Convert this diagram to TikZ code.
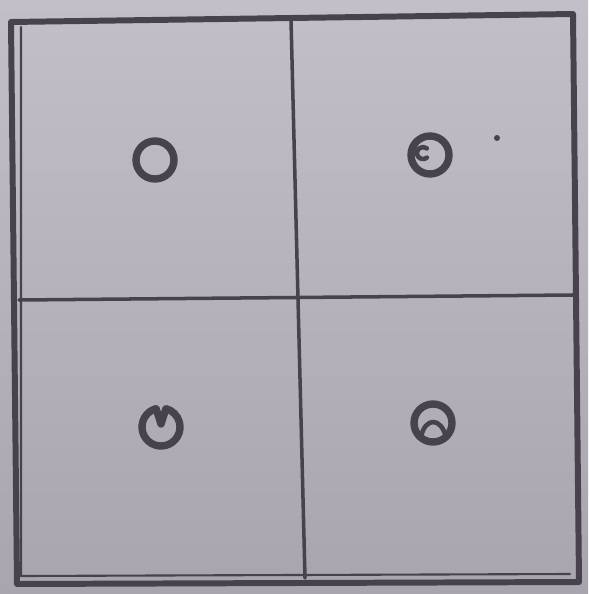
\documentclass[tikz,border=0pt]{standalone}
\usetikzlibrary{calc}

\begin{document}
\begin{tikzpicture}[x=0.02cm, y=-0.02cm]
    % Define ring radius
    \def\ringRadius{19}

    \definecolor{paperTop}{HTML}{C3BFC8}
    \definecolor{paperBottom}{HTML}{A9A5AE}
    \definecolor{inkColour}{HTML}{47424C}

    \tikzset{
        ink/.style={draw=inkColour, line cap=round, line join=round},
        ring/.style={ink, line width=4.2pt}
    }

    % Draw paper background
    \shade[top color=paperTop, bottom color=paperBottom] (0,0) rectangle (588,594);
    \useasboundingbox (0,0) rectangle (588,594);

    % Define frame corners
    \coordinate (TL) at (11,22);
    \coordinate (TR) at (573,14);
    \coordinate (BR) at (579,582);
    \coordinate (BL) at (17,584);

    % Draw the frame
    \draw[ink, line width=3.4pt] (TL) -- (TR) -- (BR) -- (BL) -- cycle;
    \draw[ink, line width=1.2pt] (21,27) -- (21,576) -- (570,574);

    % Draw the dividers
    \coordinate (Vtop) at (291,20);
    \coordinate (Vbot) at (305,578);
    \coordinate (Hleft) at (19,300);
    \coordinate (Hright) at (573,295);
    \draw[ink, line width=2pt] (Vtop) -- (Vbot);
    \draw[ink, line width=2pt] (Hleft) -- (Hright);

    % Top-left: plain ring
    \coordinate (ringA) at (155,160);
    \draw[ring] (ringA) circle (\ringRadius);

    % Top-right: ring with small hook and a dot
    \coordinate (ringB) at (430,155);
    \draw[ring] (ringB) circle (\ringRadius);
    \draw[ink, line width=2.6pt] ($(ringB)+(-7,-2)+(50:6)$) arc (50:310:6);
    \fill[inkColour] (497,138) circle (3);

    % Bottom-left: ring with notch at the top
    \coordinate (ringC) at (161,427);
    \draw[ring] ($(ringC)+(-105:\ringRadius)$) arc (-105:-435:\ringRadius)
        -- ($(ringC)+(0,-3)$) -- cycle;

    % Bottom-right: ring with small arch inside
    \coordinate (ringD) at (433,423);
    \draw[ring] (ringD) circle (\ringRadius);
    \draw[ink, line width=2.6pt] ($(ringD)+(-12,14)$) .. controls ($(ringD)+(-8,-6)$) and ($(ringD)+(8,-6)$) .. ($(ringD)+(13,14)$);

\end{tikzpicture}
\end{document}
